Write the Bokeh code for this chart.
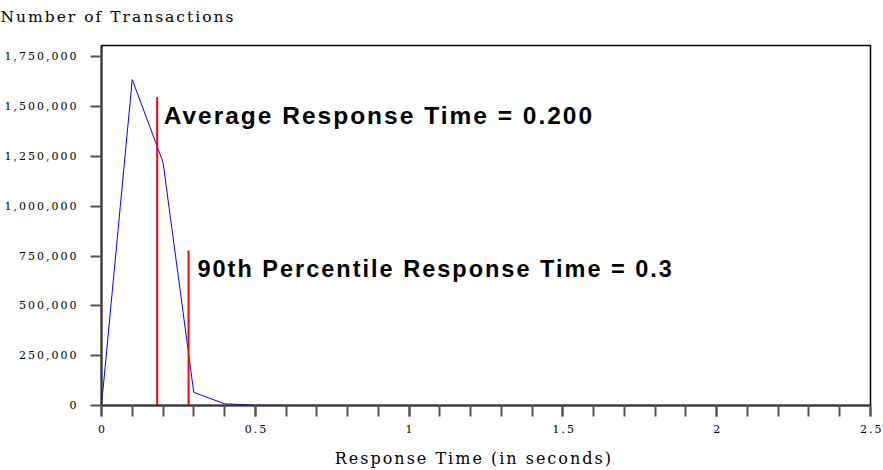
from bokeh.plotting import figure
from bokeh.models import (Range1d, FixedTicker, SingleIntervalTicker, InlineStyleSheet,
                          ColumnDataSource, Title)
from bokeh.embed import file_html
from bokeh.resources import INLINE
from bokeh.core.properties import value

# ---- data ----
resp_time = [0.0, 0.1, 0.2, 0.3, 0.4, 0.5, 0.6, 0.7, 0.8, 0.9, 1.0, 1.1, 1.2, 1.3, 1.4,
             1.5, 1.6, 1.7, 1.8, 1.9, 2.0, 2.1, 2.2, 2.3, 2.4, 2.5]
transactions = [0, 1636000, 1221000, 66000, 8500, 1500, 600, 300, 200, 150, 100, 80, 60, 50, 40,
                30, 25, 20, 15, 12, 10, 8, 6, 5, 4, 3]
avg_response = 0.181
avg_line_top = 1548000
p90_response = 0.283
p90_line_top = 778000
avg_label = "Average Response Time = 0.200"
p90_label = "90th Percentile Response Time = 0.3"
y_ticks = [0, 250000, 500000, 750000, 1000000, 1250000, 1500000, 1750000]
y_tick_labels = [f"{v:,}" for v in y_ticks]
x_ticks = [0, 0.5, 1, 1.5, 2, 2.5]
x_tick_labels = ["0", "0.5", "1", "1.5", "2", "2.5"]
x_title = "Response Time (in seconds)"
y_title = "Number of Transactions"

SERIF = "DejaVu Serif"
SANS = "Liberation Sans"
SPACING = 2  # px of letter spacing used by the reference renderer
NBSP = "\u00a0"

p = figure(width=883, height=470, output_backend="svg", toolbar_location=None,
           x_range=Range1d(0, 2.5), y_range=Range1d(0, 1807000),
           min_border_left=101, min_border_right=13, min_border_top=45, min_border_bottom=65,
           title=y_title)
p.stylesheets = [InlineStyleSheet(css=f":host {{ letter-spacing: {SPACING}px; }}")]

p.title.text_font = SERIF
p.title.text_font_size = "15.5px"
p.title.text_font_style = "normal"
p.title.align = "left"
p.title.offset = -101
p.title.vertical_align = "top"
p.title.standoff = 4
p.title.text_color = "black"

# an empty spacer title between the frame and the chart title lifts the title up
p.add_layout(Title(text=NBSP, text_font_size="10px", standoff=3), "above")

p.xgrid.visible = False
p.ygrid.visible = False
p.outline_line_color = "black"
p.outline_line_width = 1.5
p.background_fill_color = "white"
p.border_fill_color = "white"

# data line
src = ColumnDataSource(dict(x=resp_time, y=transactions))
p.line("x", "y", source=src, line_color="#0000ff", line_width=1)

# reference lines
p.segment(x0=[avg_response, p90_response], y0=[0, 0],
          x1=[avg_response, p90_response], y1=[avg_line_top, p90_line_top],
          line_color="#ff0000", line_width=2)

# annotations
p.text(x=[0.202], y=[1455000], text=[avg_label], text_font=value(SANS),
       text_font_style="bold", text_font_size="24.5px", text_baseline="middle",
       text_align="left", text_color="black")
p.text(x=[0.312], y=[685000], text=[p90_label], text_font=value(SANS),
       text_font_style="bold", text_font_size="23.5px", text_baseline="middle",
       text_align="left", text_color="black")

# axes
xa = p.xaxis[0]
xa.ticker = SingleIntervalTicker(interval=0.5, num_minor_ticks=5)
# one trailing no-break space on the 3-character labels re-centres them
xa.major_label_overrides = {v: t + (NBSP if len(t) > 1 else "")
                            for v, t in zip(x_ticks, x_tick_labels)}
# trailing no-break spaces move the letter-spaced, centred title to its place
xa.axis_label = x_title + NBSP * 15
xa.axis_label_standoff = 10

ya = p.yaxis[0]
ya.ticker = FixedTicker(ticks=y_ticks)
# pad every label to the same length with no-break spaces so that the letter
# spacing keeps the right edges aligned
width = max(len(t) for t in y_tick_labels)
ya.major_label_overrides = {v: NBSP * (width - len(t)) + t
                            for v, t in zip(y_ticks, y_tick_labels)}

for ax in (xa, ya):
    ax.major_label_text_font = SERIF
    ax.major_label_text_font_size = "11px"
    ax.major_label_text_color = "black"
    ax.axis_label_text_font = SERIF
    ax.axis_label_text_font_size = "16px"
    ax.axis_label_text_font_style = "normal"
    ax.axis_label_text_color = "black"
    ax.major_tick_in = 0
    ax.minor_tick_in = 0
    ax.major_tick_out = 11
    ax.minor_tick_out = 11
    ax.major_tick_line_color = "#555555"
    ax.minor_tick_line_color = "#555555"
    ax.major_tick_line_width = 2
    ax.minor_tick_line_width = 2
    ax.axis_line_color = "#333333"
    ax.axis_line_width = 2

xa.major_label_standoff = 6
ya.major_label_standoff = 30
ya.minor_tick_line_color = None

open("out.html", "w").write(file_html(p, INLINE))
